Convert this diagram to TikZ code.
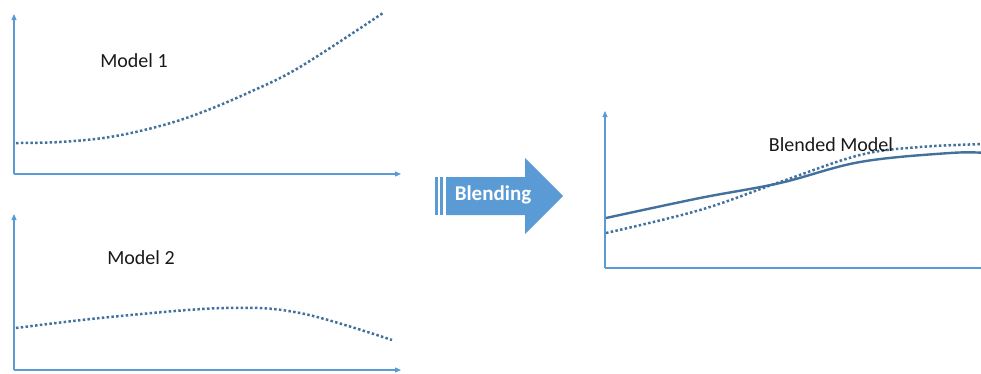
\documentclass[tikz,border=0pt]{standalone}
\usepackage{fontspec}
\setmainfont{Carlito}
\usetikzlibrary{arrows.meta}
\definecolor{axisblue}{HTML}{5B9BD5}
\definecolor{curveblue}{HTML}{41719C}
\definecolor{arrowblue}{HTML}{5B9BD5}
\tikzset{
  axis/.style={draw=axisblue, line width=1.1pt, -{Triangle[length=6pt,width=5pt]}},
  dotcurve/.style={draw=curveblue, line width=2.5pt, dash pattern=on 2.5pt off 2.3pt},
  solidcurve/.style={draw=curveblue, line width=2.4pt},
  label/.style={font=\fontsize{20}{23}\selectfont, text=black!90, inner sep=0pt}
}
\begin{document}
\begin{tikzpicture}[x=1pt,y=-1pt]
\useasboundingbox (0,0) rectangle (981,373);
% chart 1
\coordinate (o1) at (14,174);
\coordinate (y1) at (14,14);
\coordinate (x1) at (401,174);
\draw[axis] (o1) -- (y1);
\draw[axis] (o1) -- (x1);
\draw[dotcurve] plot[smooth, tension=0.6] coordinates {(16,143) (60,142) (110,137) (160,126) (200,113) (250,92) (300,67) (383,13)};
\node[label] (m1) at (134,61) {Model 1};
% chart 2
\coordinate (o2) at (14,370);
\coordinate (y2) at (14,214);
\coordinate (x2) at (401,370);
\draw[axis] (o2) -- (y2);
\draw[axis] (o2) -- (x2);
\draw[dotcurve] plot[smooth, tension=0.6] coordinates {(16,328) (110,317) (225,308) (300,313) (392,340)};
\node[label] (m2) at (141,258) {Model 2};
% arrow
\fill[arrowblue] (435,177) rectangle (438,215);
\fill[arrowblue] (440,177) rectangle (443,215);
\fill[arrowblue] (446,177) -- (525,177) -- (525,158) -- (563,196) -- (525,234) -- (525,215) -- (446,215) -- cycle;
\node[font=\fontsize{21}{24}\selectfont\bfseries, text=white, inner sep=0pt] (bl) at (493,195) {Blending};
% chart 3
\coordinate (o3) at (605,268);
\coordinate (y3) at (605,111);
\coordinate (x3) at (995,268);
\draw[axis] (o3) -- (y3);
\draw[axis] (o3) -- (x3);
\draw[solidcurve] plot[smooth, tension=0.6] coordinates {(606,218) (700,198) (780,183) (860,162) (950,153) (985,153)};
\draw[dotcurve] plot[smooth, tension=0.6] coordinates {(606,233) (700,210) (780,182) (860,155) (920,147) (985,144)};
\node[label] (bm) at (831,145) {Blended Model};
\end{tikzpicture}
\end{document}
